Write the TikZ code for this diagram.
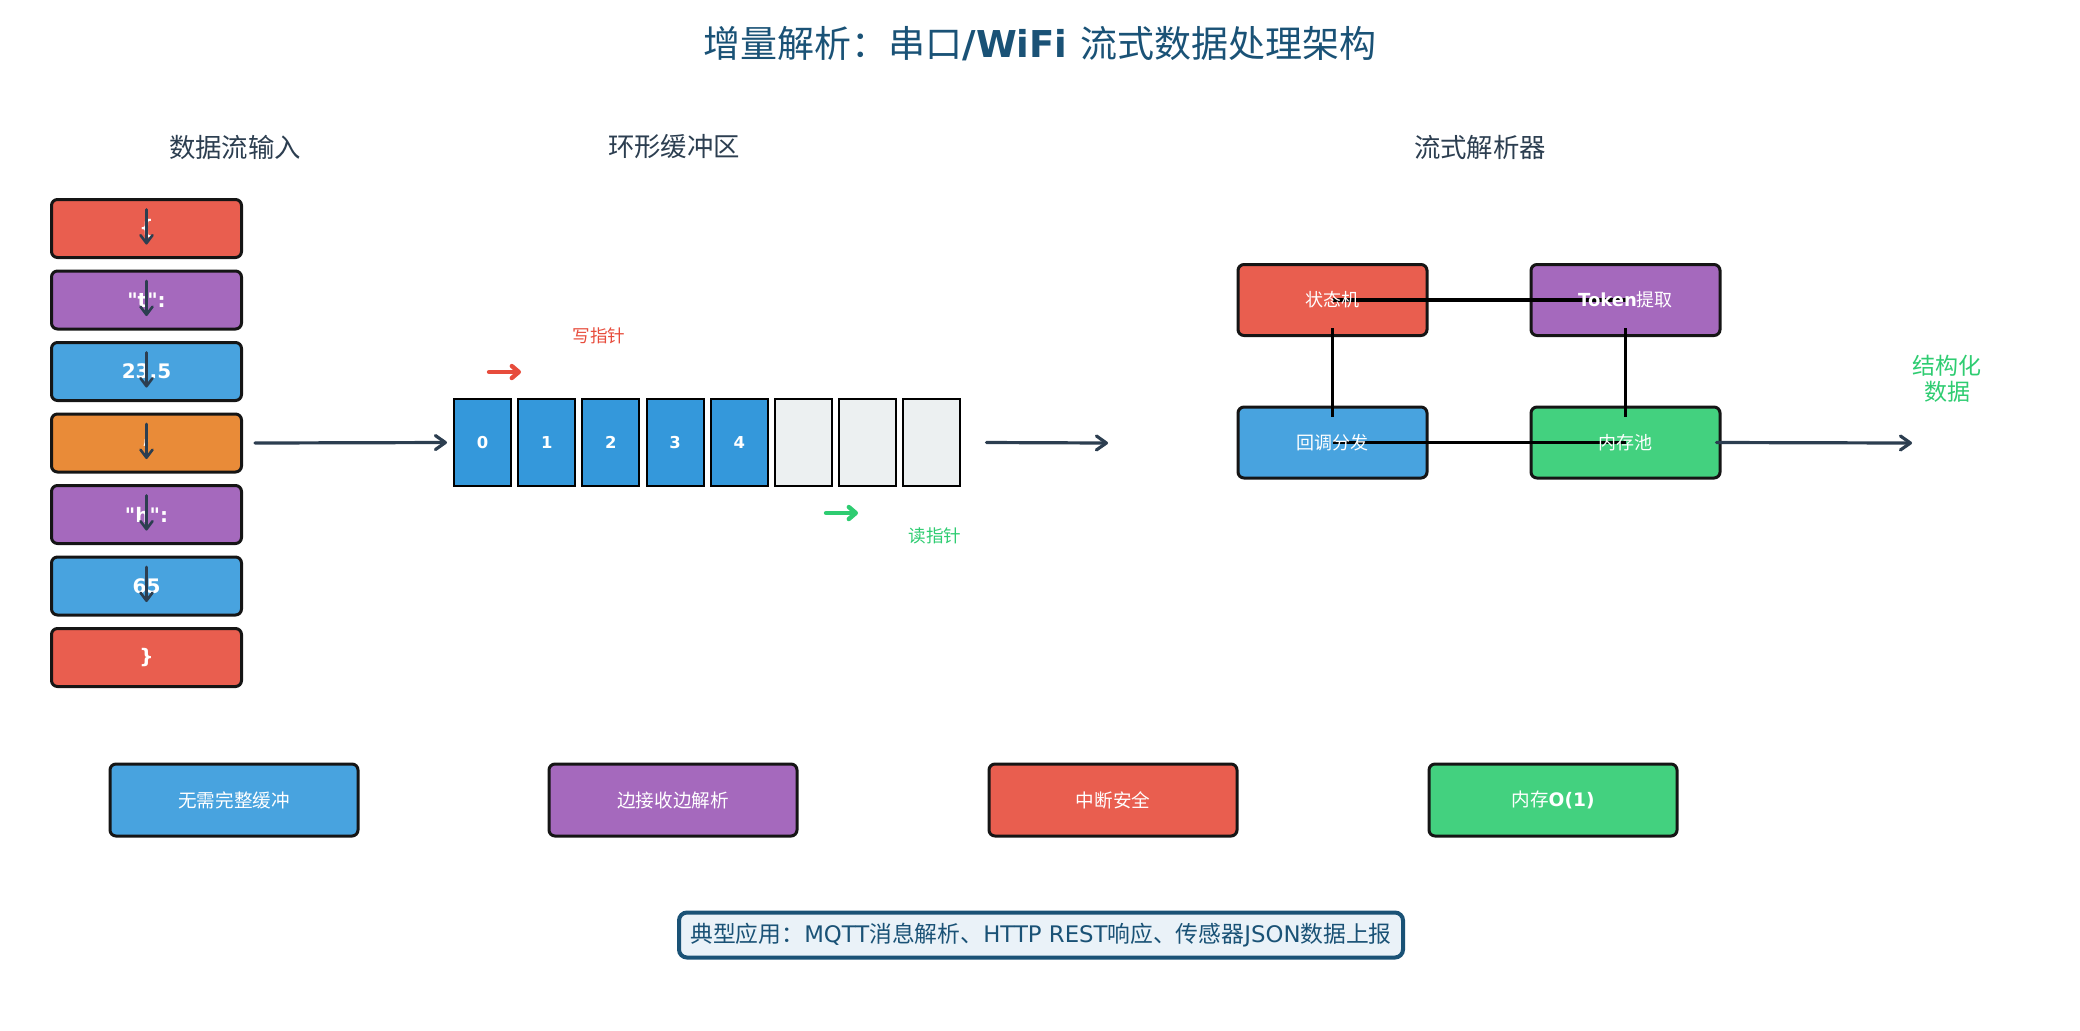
\documentclass[tikz,border=0pt]{standalone}
\usepackage{fontspec}
\setmainfont{DejaVu Sans}[Ligatures=TeXOff]
\newfontfamily\cjk{Noto Sans CJK SC}
\newcommand\zh[1]{{\mdseries\cjk #1}}
\usetikzlibrary{arrows.meta,calc}
\definecolor{cred}{HTML}{E95E4F}
\definecolor{cpurple}{HTML}{A569BD}
\definecolor{cblue}{HTML}{48A3DF}
\definecolor{corange}{HTML}{E98B38}
\definecolor{cgreen}{HTML}{43D17F}
\definecolor{cellblue}{HTML}{3498DB}
\definecolor{cellgray}{HTML}{ECF0F1}
\definecolor{cdark}{HTML}{2C3E50}
\definecolor{ctitle}{HTML}{1A5276}
\definecolor{boxline}{HTML}{151515}
\definecolor{pred}{HTML}{E74C3C}
\definecolor{pgreen}{HTML}{2ECC71}
\definecolor{notefill}{HTML}{EAF2F8}
\begin{document}
\begin{tikzpicture}[x=0.5pt,y=-0.5pt,
  jbox/.style={draw=boxline, line width=1.5pt, rounded corners=3pt, minimum width=95pt, minimum height=29pt, inner sep=0pt, text=white, font=\fontsize{10}{12}\selectfont\bfseries},
  cellbox/.style={draw=black, line width=1pt, minimum width=28.5pt, minimum height=43.5pt, inner sep=0pt, text=white, font=\fontsize{8.2}{10}\selectfont\bfseries},
  pbox/.style={draw=boxline, line width=1.5pt, rounded corners=3pt, minimum width=94.5pt, minimum height=35.5pt, inner sep=0pt},
  ptext/.style={text=white, font=\fontsize{9}{11}\selectfont\bfseries},
  fbox/.style={draw=boxline, line width=1.5pt, rounded corners=3pt, minimum width=124pt, minimum height=36pt, inner sep=0pt, text=white, font=\fontsize{9.3}{11}\selectfont},
  header/.style={text=cdark, font=\fontsize{13.2}{15}\selectfont},
  flow/.style={draw=cdark, line width=1.6pt, line cap=round, -{Straight Barb[length=5pt,width=7pt,round]}},
  downarr/.style={draw=cdark, line width=1.3pt, line cap=round, -{Straight Barb[length=4pt,width=6pt,round]}},
  ptr/.style={line width=2.2pt, line cap=round, -{Straight Barb[length=3.5pt,width=6pt,round]}},
  link/.style={draw=black, line width=1.6pt}
]
\useasboundingbox (0,0) rectangle (2080,1030);

% title
\node[text=ctitle, font=\fontsize{18.5}{22}\selectfont\bfseries] (title) at (1040,44) {\zh{增量解析：串口}/WiFi \zh{流式数据处理架构}};

% headers
\node[header] (h1) at (235,147) {\zh{数据流输入}};
\node[header] (h2) at (674,147) {\zh{环形缓冲区}};
\node[header] (h3) at (1480,147) {\zh{流式解析器}};

% left column
\node[jbox, fill=cred]    (b1) at (146.5,228.5) {\{};
\node[jbox, fill=cpurple] (b2) at (146.5,300) {"t":};
\node[jbox, fill=cblue]   (b3) at (146.5,371.5) {23.5};
\node[jbox, fill=corange] (b4) at (146.5,443) {,};
\node[jbox, fill=cpurple] (b5) at (146.5,514.5) {"h":};
\node[jbox, fill=cblue]   (b6) at (146.5,586) {65};
\node[jbox, fill=cred]    (b7) at (146.5,657.5) {\}};
\foreach \b in {b1,b2,b3,b4,b5,b6}{
  \draw[downarr] ([yshift=9.5pt]\b.center) -- ([yshift=-8pt]\b.center);
}

% ring buffer
\foreach \i in {0,...,4}{
  \node[cellbox, fill=cellblue] (c\i) at ({482.5+64.2*\i},442.5) {\i};
}
\foreach \i in {5,6,7}{
  \node[cellbox, fill=cellgray] (c\i) at ({482.5+64.2*\i},442.5) {};
}
\draw[flow] ([xshift=6pt]b4.east) -- ([xshift=-3pt]c0.west);

% pointers
\coordinate (wpa) at (489,372);
\coordinate (wpb) at (521,372);
\coordinate (rpa) at (826,513);
\coordinate (rpb) at (858,513);
\draw[ptr, draw=pred] (wpa) -- (wpb);
\draw[ptr, draw=pgreen] (rpa) -- (rpb);
\node[text=pred, font=\fontsize{8.8}{10}\selectfont] (wlab) at (599,336) {\zh{写指针}};
\node[text=pgreen, font=\fontsize{8.8}{10}\selectfont] (rlab) at (935,536) {\zh{读指针}};

% buffer -> parser
\coordinate (pin) at (1108,443);
\draw[flow] ([xshift=12.5pt]c7.east) -- (pin);

% parser
\node[pbox, fill=cred]    (pA) at (1332.5,300) {};
\node[pbox, fill=cpurple] (pB) at (1625.5,300) {};
\node[pbox, fill=cblue]   (pC) at (1332.5,442.5) {};
\node[pbox, fill=cgreen]  (pD) at (1625.5,442.5) {};
\draw[link] (pA.center) -- (pB.center);
\draw[link] (pC.center) -- (pD.center);
\draw[link] ([yshift=-14pt]pA.center) -- ([yshift=12.75pt]pC.center);
\draw[link] ([yshift=-14pt]pB.center) -- ([yshift=12.75pt]pD.center);
\node[ptext] (tA) at (pA) {\zh{状态机}};
\node[ptext] (tB) at (pB) {Token\zh{提取}};
\node[ptext] (tC) at (pC) {\zh{回调分发}};
\node[ptext] (tD) at (pD) {\zh{内存池}};

% output
\coordinate (pout) at (1912,443);
\draw[flow] ([xshift=-2.5pt]pD.east) -- (pout);
\node[text=pgreen, align=center, font=\fontsize{11.5}{13}\selectfont] (outlab) at (1947,379) {\zh{结构化}\\\zh{数据}};

% features
\node[fbox, fill=cblue]   (f1) at (234,800) {\zh{无需完整缓冲}};
\node[fbox, fill=cpurple] (f2) at (673,800) {\zh{边接收边解析}};
\node[fbox, fill=cred]    (f3) at (1113,800) {\zh{中断安全}};
\node[fbox, fill=cgreen]  (f4) at (1553,800) {\zh{内存}\textbf{O(1)}};

% note
\node[draw=ctitle, fill=notefill, line width=2pt, rounded corners=4pt, minimum width=362pt, minimum height=22.5pt, inner sep=0pt, text=ctitle, font=\fontsize{11.4}{13}\selectfont] (note) at (1041,935) {\zh{典型应用：}MQTT\zh{消息解析、}HTTP REST\zh{响应、传感器}JSON\zh{数据上报}};
\end{tikzpicture}
\end{document}
